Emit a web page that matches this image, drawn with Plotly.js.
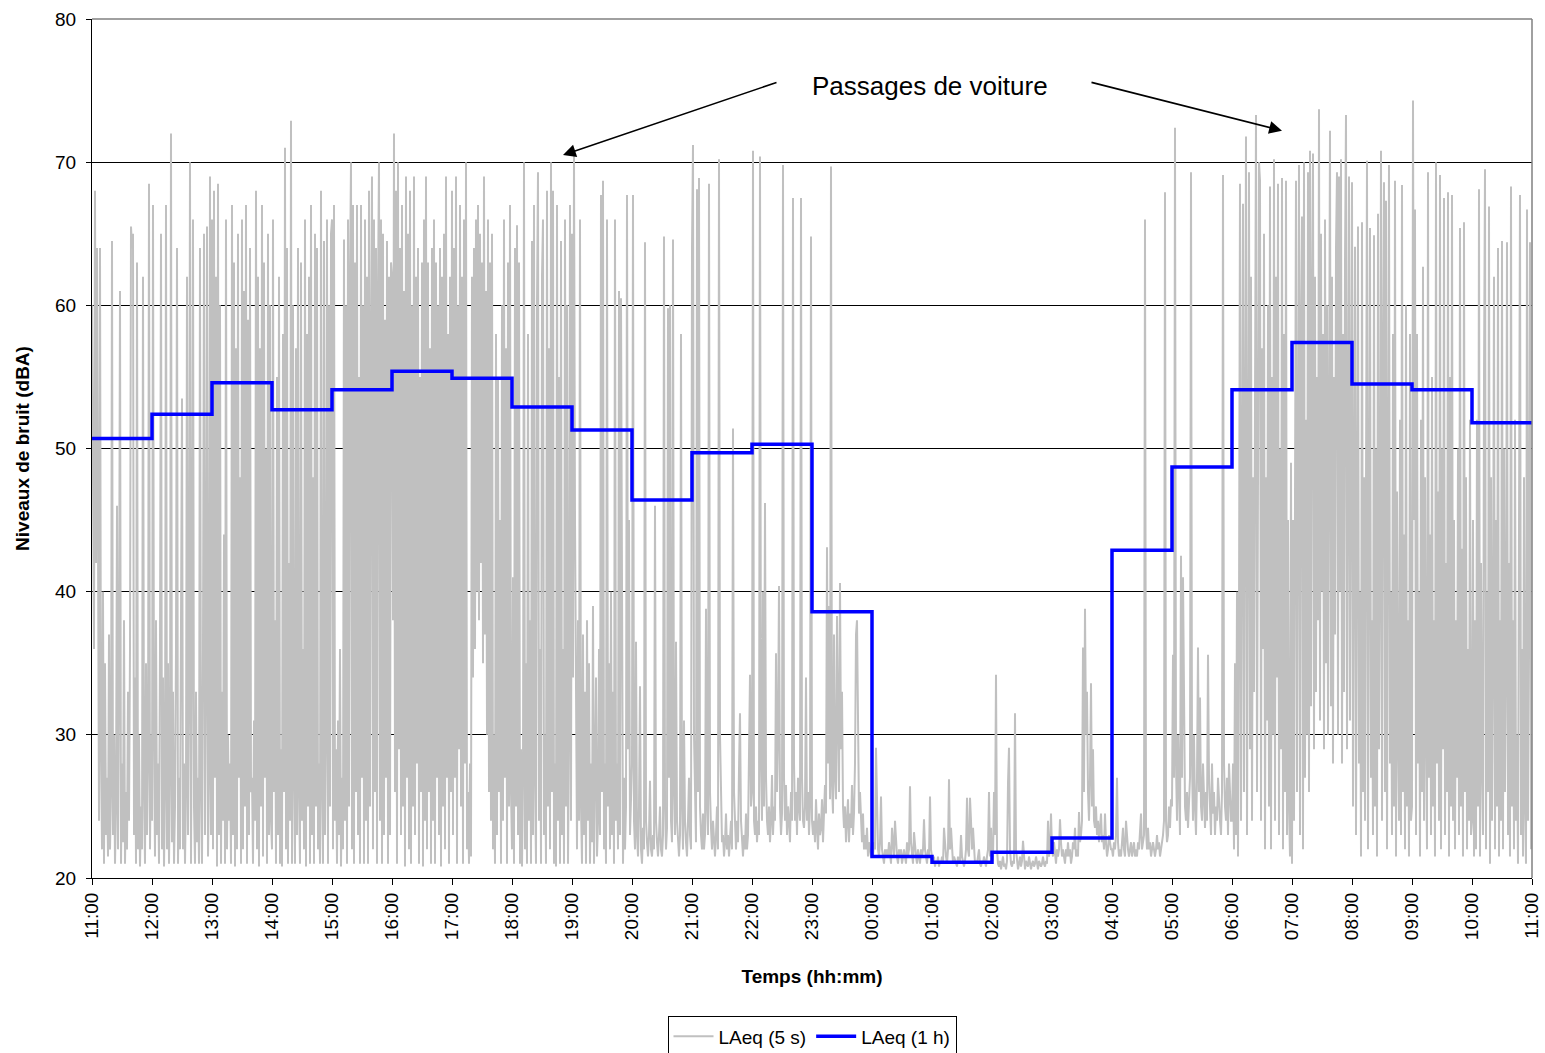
<!DOCTYPE html>
<html>
<head>
<meta charset="utf-8">
<script src="https://cdn.plot.ly/plotly-3.0.1.min.js"></script>
<style>html,body{margin:0;padding:0;background:#fff;}#chart{width:1545px;height:1053px;}</style>
</head>
<body>
<div id="chart"></div>
<script>
// Hour tick labels (11:00 -> 11:00 next day)
const hourLabels = ["11:00","12:00","13:00","14:00","15:00","16:00","17:00","18:00","19:00","20:00","21:00","22:00","23:00","00:00","01:00","02:00","03:00","04:00","05:00","06:00","07:00","08:00","09:00","10:00","11:00"];

// LAeq (1 h) — one value per hour, starting 11:00
const laeq1h = [50.7,52.4,54.6,52.7,54.1,55.4,54.9,52.9,51.3,46.4,49.7,50.3,38.6,21.5,21.1,21.8,22.8,42.9,48.7,54.1,57.4,54.5,54.1,51.8];

// LAeq (5 s) — read per minute from the picture, one array per hour
const h11 = [60,48,36,68,42,64,38,24,64,29,22,40,21,35,23,27,21.5,37,22,26,64.5,23,30,21,25,46,22,34,61,21,28,22.5,38,21,26,22,33,24,36,65.5,64,65,23,34,21,63,22,30,20.8,25,22,62,26,21,35,23,28,68.5,22,30];
const h12 = [24,67,30,21.5,38,23,28,21,36,65,22,34,20.8,26,67,22,35,21,27,72,22.5,33,21,25,36,64,21,27,22,34,53.5,22,28,21,26,62,23,33,70,21,36,66,25,21,33,22.5,27,21,64,26,21,36,65,23,34,65.5,21.5,27,69,23];
const h13 = [66,22,68,27,62,20.8,68.5,23,60,21,33,24,44,21,66,22,30,24,28,21,67,23,63,20.8,57,22,65,27,48,21,66,22,61,25,67,21,59,23,64,26,27,21,31,24,68,22,62,20.8,57,25,67,21.5,63,27,50,21,65,23,60,24];
const h14 = [22,66,26,38,21,55,23,62,21,29,20.8,58,26,71,22,64,21,42,24,72.9,21,60,27,21,57,23,64,26,21,63,24,36,22,66,20.8,58,25,62,21,67,23,48,21,65,25,64,22,28,21,68,26,21,64.5,23,30,66,21,60,25,65];
const h15 = [66,22,67,24,29,21,31,23,36,20.8,27,22,64.6,24,60,21,66,25,62,70,22,67,21,63,26,67,23,55,21,67,27,60,21,66,24,62,21,68,25,57,69,22,66,26,64,21,61,70,24,66,21,65,23,59,27,64.5,21,62,23,63];
const h16 = [62,38,72,26,68,21,70,29,64,23,67,25,61,20.8,69,27,65,22,68,21,60,25,69,23,62,28,64,21,55,26,63,20.8,66,24,69,22,63,26,57,21,64,24,66,21,63,27,60,23,64,20.8,62,25,65,22,69,27,58,21,62,26];
const h17 = [68,23,64,27,69,21,60,29,67,25,62,21,66,28,70,22,26,21,28,21.5,62,34,64,36,66,40,67,38,65,42,63,35,69,37,61,30,66,26,63,24,65,22,30,21,58,23,55,26,45,21,60,24,66,27,57,21,63,25,67,26];
const h18 = [22,41,21,64,25,65.6,23,63,21,29,20.8,27,70,22,35,21,58,24,38,21,64.5,23,67,27,21,60,69.3,24,36,21,62,66,23,30,21,68,25,57,22,70,26,68,21,28,20.8,67,24,55,21,64.5,23,36,21,66,25,60,21,30,67,24];
const h19 = [65,34,70.6,45,27,22,38,24,66,25,21,37,23,33,21,38,24,35,21,28,22.5,39,21,27,34,21.5,24,36,23,67.7,26,68.7,22,28,21,66,25,35,22,40,23,33,21,66,24,28,22,61,23,60.5,29,21,27,22,25,67.7,29,45,23,26];
const h20 = [28,67.7,24,22,36.5,23,21.5,25,33.4,22,21,23.5,22,64.4,24,22.5,21.5,23,26.8,22,21.5,23,22,46,24,22.5,21.5,23,25,22,21.5,23,64.8,25,22,23.5,59.8,27,60,24,22.5,64.6,26,23,36.5,24,22,21.5,23,58,25,22,31,24,22.5,21.5,24,27,23,22];
const h21 = [64,71.2,30,24,22.5,68.1,26,68.9,25,23,22,24.5,22,23,38.8,25,23,68.5,26,23.5,22,24,22.5,21.5,23,25,22,70.2,30,24,22.5,23,21.5,22.5,24.5,22,23,21.5,22.5,24,22,51.4,26,23,22,24,22.5,27.6,31.5,24,22.5,21.5,23,22,24.5,22,23,28,34.2,25];
const h22 = [26,70.8,24,23,25,22.5,24,23,70.4,28,24,40,25,46.2,27,24,23,25,22.5,24,27.2,23,25,24,35.7,26,30,40.4,25,23,24.5,69.8,27,24,26.5,23,25,24,22.5,26,24,67.5,28,24,26,23,27,25,24,67.5,27,24,23.5,25,34,24,26,23,25,64.8];
const h23 = [24,23,24,22.5,25.5,23.5,22,24.5,23,23.5,25.5,22.5,24,26.5,24.5,43.1,28,39,25.5,69.7,26.5,24.5,37,27,25.5,38.3,31,26,40.6,29,33,25,23.5,25,22.5,24,25.5,22.5,24.5,23.5,26.5,23,24.5,28,37,38,31,24.5,26,23.5,22.5,24.5,22,23,22,23.5,21.5,22.5,22,21.5];
const h00 = [22,21.5,22.5,22,29.1,24,22,21.5,22.5,25.7,22,21.5,21,22,21.5,22,21.5,22.5,21.5,21,23.5,22,21.5,24,22,21.5,21,22,21.5,22,21,21.5,22,21.5,21,22.5,21.5,22,26.4,22.5,21.5,21,23.2,22,21.5,21,22,21.5,21,22,21.5,22,24.1,22,21.5,21,22,21.5,25.7,22];
const h01 = [21.5,21,21.5,20.8,21.2,21,21.5,20.8,21.2,21,21.5,21,23.5,22,21.5,21,22,26.9,22,23.5,21.5,21,21.5,21.2,21,20.8,21.5,21,21.2,23,21.5,21,20.8,21.2,22,25.6,22,21.5,25.6,24,22,23.5,21.5,21,21.2,21,21.5,22,21,20.8,21.2,21,21.5,21,20.8,21.5,22,26,21.5,23.5];
const h02 = [21,21.5,26,23,34.2,22,21,20.8,21.2,20.6,21,21.5,20.8,21,20.6,21.2,26.6,29.1,22,21,20.8,21.2,21,31.5,22,21,20.6,21,21.5,20.8,21.2,22.6,21,20.6,21.2,21,20.8,21.5,21,20.6,21,21.2,20.8,21,21.5,21,20.6,21.2,21,20.8,21,21.5,21,20.8,21.2,21,24,21.5,22,24.5];
const h03 = [22,21.5,22.5,21.5,21,22,21.5,22,24.1,22.5,21.5,22,21.5,21,22,21.5,22.5,21.5,22,21,21.5,22.5,22,23.5,21.5,22,21.5,24.6,22.5,23,24,36.1,26,38.8,30,33,26,24,27,33.6,25,29,24,23.5,25,23,24,22.5,23.5,24.5,22.5,23,22,24.5,22.5,21.5,22,23,22.5,22];
const h04 = [22,21.5,22.5,22,23,27,22.5,21.5,22,21.5,22.5,23.5,22,21.5,24,22.5,22,21.5,22,22.5,21.5,22,22.5,21.5,22,21.5,22.5,22,23,24.5,22,22.5,23,66,23.5,22,23.5,22,22.5,21.5,22,22.5,22,21.5,22,23,22,22.5,21.5,22,22.5,23,24,67.9,24,22.5,23,25,23.5,25.5];
const h05 = [25,35.6,27,72.4,28,24,30,26,23,42.5,27,41,29,25,24,26,23.5,25,27,69.3,28,24,30,25,23,27,36.1,26,32.6,25,24,28,25,23.5,26,24,35.6,27,25,23,28,24.5,26,23,25,24,27,25,24,23,26,69.1,28,25,24,27,23,28,25,24];
const h06 = [24,28,22,35,23,40,21.5,38,68.5,24,45,67.1,26,50,71.8,23,55,69.3,29,62,24,48,33,58,73.3,26,52,70,68.7,24,57,36,65,22,48,31,60,25,68.3,22,55,30,70.2,24,62,34,68.5,23,50,29,68.9,22,58,26,68.7,23,45,25,21.5,49];
const h07 = [21,45,24,55,68.7,26,50,69.8,23,58,66.2,22,70,27,52,30,69.3,26,70.8,32,60,70.6,29,62,33,55,38,73.7,31,65,40,58,29,66,35,60,30,52,72.2,32,62,28,55,37,64,69.3,30,69,40,70.2,28,58,33,63,73.3,29,60,69,31,56];
const h08 = [68.6,25,45,64.1,23,52,65.5,28,40,21.5,65.8,26,48,24,56,70.1,22,44,65.4,27,38,23,64.9,25,50,21.5,66.4,29,42,70.8,24,55,68.6,26,67.3,22,46,69.8,28,40,23,58,25,68.7,21.5,47,30,24,52,23,68.4,26,44,22,60,25,38,21.5,58,24];
const h09 = [25,74.3,45,66.7,23,58,28,40,21.5,52,26,62.7,24,48,30,22,69.3,27,44,23,55,25,38,21.5,70,28,47,24,69.1,22,50,29,67.5,23,42,26,67.9,21.5,55,25,67.7,24,45,22,38,27,50,23,65.4,25,43,21.5,65.8,26,48,22,36,24,52,23];
const h10 = [24,45,21.5,38,22,52,25,68.1,21.5,42,28,23,55,69.5,22,40,26,66.9,21,48,24,36,62,22,45,25,64,21.5,38,24,64.5,22,50,26,35,64.4,23,42,21.5,68.3,25,38,22,52,24,30,21,44,67.7,23,36,21.5,48,25,21,66.7,24,41,64.4,22];
const endValue = [30];

const laeq5s = [].concat(h11,h12,h13,h14,h15,h16,h17,h18,h19,h20,h21,h22,h23,h00,h01,h02,h03,h04,h05,h06,h07,h08,h09,h10,endValue);
const xMin = laeq5s.map((_, i) => i);              // minutes since 11:00
const xHour = laeq1h.map((_, i) => i * 60).concat([1440]);
const yHour = laeq1h.concat([laeq1h[laeq1h.length - 1]]);
const tickPos = hourLabels.map((_, i) => i * 60);

const FONT = "Arial, 'Liberation Sans', sans-serif";

const traces = [
  {x: xMin, y: laeq5s, type: 'scatter', mode: 'lines', name: 'LAeq (5 s)',
   line: {color: '#C0C0C0', width: 2}},
  {x: xHour, y: yHour, type: 'scatter', mode: 'lines', name: 'LAeq (1 h)',
   line: {color: '#0000FF', width: 3.5, shape: 'hv'}}
];

const layout = {
  width: 1545, height: 1053,
  margin: {l: 92, r: 13, t: 19, b: 175, autoexpand: false},
  paper_bgcolor: '#fff', plot_bgcolor: '#fff',
  font: {family: FONT, size: 19, color: '#000'},
  showlegend: true,
  legend: {orientation: 'h', x: 0.5, xanchor: 'center', y: -0.161, yanchor: 'top',
           bordercolor: '#000', borderwidth: 1, font: {family: FONT, size: 19},
           traceorder: 'normal', itemwidth: 40},
  xaxis: {
    range: [0, 1440], tickmode: 'array', tickvals: tickPos, ticktext: hourLabels,
    tickangle: -90, ticks: 'outside', ticklen: 6, tickcolor: '#000',
    showline: true, linecolor: '#000', linewidth: 1, showgrid: false, zeroline: false,
    tickfont: {family: FONT, size: 19}, automargin: false,
    title: {text: '<b>Temps (hh:mm)</b>', font: {family: FONT, size: 19}, standoff: 30}
  },
  yaxis: {
    range: [20, 80], dtick: 10, tick0: 20, ticks: 'outside', ticklen: 5, tickcolor: '#000',
    showline: true, linecolor: '#000', linewidth: 1, showgrid: true, gridcolor: '#000', gridwidth: 1,
    zeroline: false, tickfont: {family: FONT, size: 19}, ticklabelstandoff: 6, automargin: false,
    title: {text: '<b>Niveaux de bruit (dBA)</b>', font: {family: FONT, size: 19}, standoff: 20}
  },
  shapes: [
    {type: 'line', xref: 'paper', yref: 'paper', x0: 0, x1: 1, y0: 1, y1: 1, line: {color: '#808080', width: 1.5}},
    {type: 'line', xref: 'paper', yref: 'paper', x0: 1, x1: 1, y0: 0, y1: 1, line: {color: '#808080', width: 1.5}}
  ],
  annotations: [
    {x: 838, y: 75.3, xref: 'x', yref: 'y', text: 'Passages de voiture', showarrow: false,
     font: {family: FONT, size: 26, color: '#000'}},
    {x: 471, y: 70.5, xref: 'x', yref: 'y', ax: 686, ay: 75.6, axref: 'x', ayref: 'y',
     text: '', showarrow: true, arrowhead: 2, arrowsize: 1.6, arrowwidth: 1.6, arrowcolor: '#000'},
    {x: 1190, y: 72.2, xref: 'x', yref: 'y', ax: 998, ay: 75.6, axref: 'x', ayref: 'y',
     text: '', showarrow: true, arrowhead: 2, arrowsize: 1.6, arrowwidth: 1.6, arrowcolor: '#000'}
  ]
};

Plotly.newPlot('chart', traces, layout, {displayModeBar: false, staticPlot: true});
</script>
</body>
</html>
